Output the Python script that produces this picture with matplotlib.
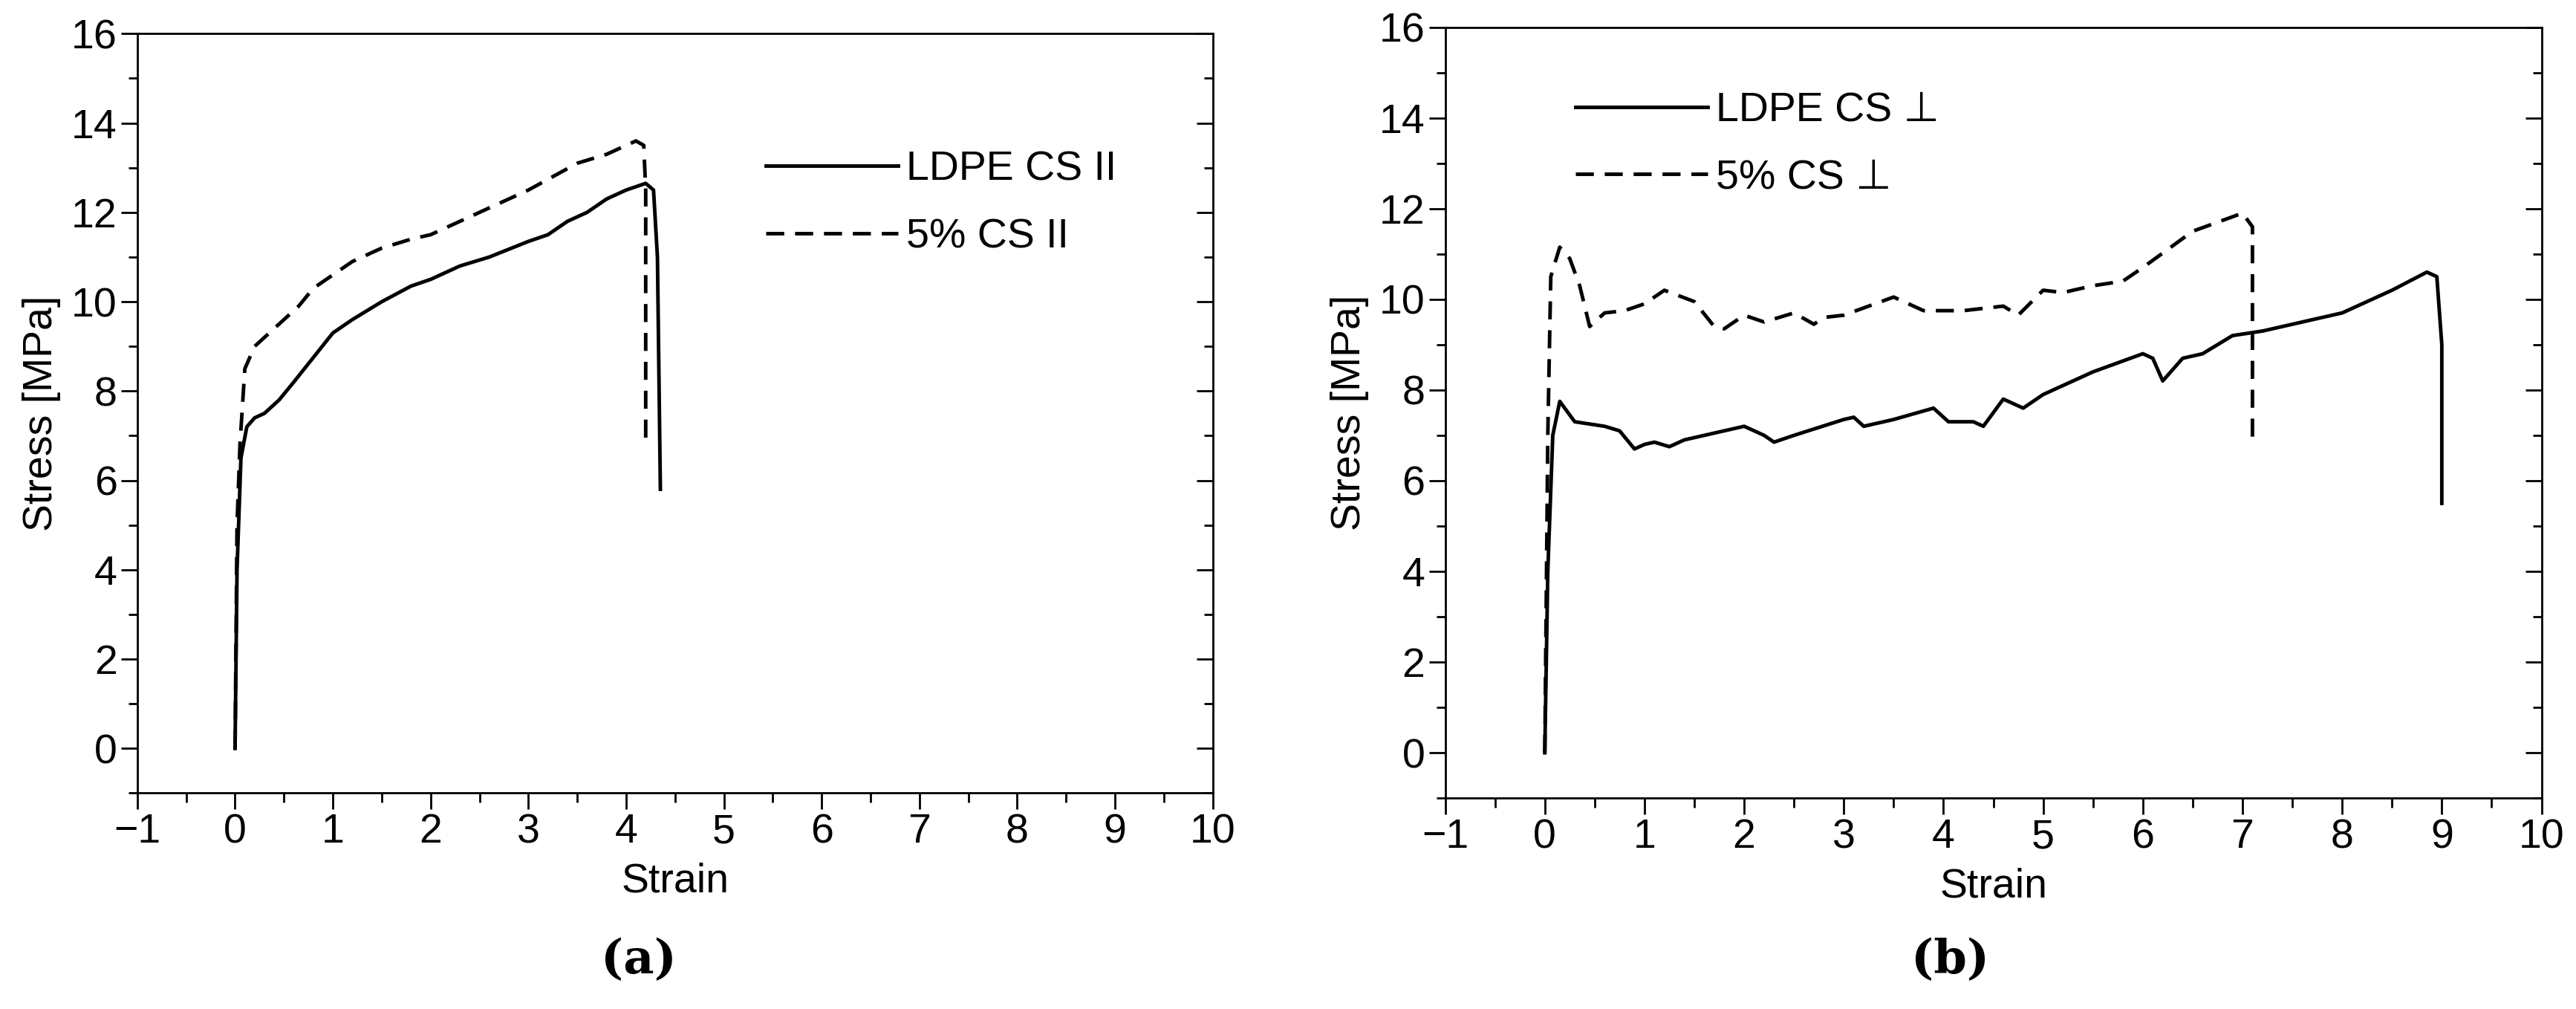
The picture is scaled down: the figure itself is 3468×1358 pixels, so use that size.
import matplotlib
matplotlib.use("Agg")
import matplotlib.pyplot as plt
from matplotlib.ticker import MultipleLocator

plt.rcParams["font.family"] = ["Liberation Sans", "DejaVu Sans"]

# (a) parallel direction
a_ldpe_x = [0, 0.02, 0.06, 0.12, 0.2, 0.3, 0.45, 0.6, 0.8, 1.0, 1.2, 1.5, 1.8, 2.0, 2.3, 2.6, 3.0, 3.2,
            3.4, 3.6, 3.8, 4.0, 4.2, 4.28, 4.32, 4.35]
a_ldpe_y = [0, 4, 6.5, 7.2, 7.4, 7.5, 7.8, 8.2, 8.75, 9.3, 9.6, 10.0, 10.35, 10.5, 10.8, 11.0, 11.35, 11.5,
            11.8, 12.0, 12.3, 12.5, 12.65, 12.5, 11.0, 5.8]
a_cs_x = [0, 0.02, 0.05, 0.1, 0.2, 0.35, 0.5, 0.65, 0.8, 1.0, 1.2, 1.5, 1.8, 2.0, 2.5, 3.0, 3.5, 3.8, 4.0,
          4.1, 4.18, 4.2, 4.2]
a_cs_y = [0, 5, 6.8, 8.5, 9.0, 9.3, 9.6, 9.9, 10.3, 10.6, 10.9, 11.2, 11.4, 11.5, 12.0, 12.5, 13.1, 13.3,
          13.5, 13.6, 13.5, 12.5, 6.8]

# (b) perpendicular direction
b_ldpe_x = [0, 0.03, 0.08, 0.15, 0.2, 0.3, 0.6, 0.75, 0.9, 1.0, 1.1, 1.25, 1.4, 2.0, 2.2, 2.3, 2.5, 3.0, 3.1,
            3.2, 3.5, 3.9, 4.05, 4.3, 4.4, 4.6, 4.7, 4.8, 5.0, 5.5, 6.0, 6.1, 6.2, 6.4, 6.6, 6.9, 7.2, 7.5,
            8.0, 8.5, 8.85, 8.95, 9.0, 9.0]
b_ldpe_y = [0, 4, 7, 7.75, 7.6, 7.3, 7.2, 7.1, 6.7, 6.8, 6.85, 6.75, 6.9, 7.2, 7.0, 6.85, 7.0, 7.35, 7.4,
            7.2, 7.35, 7.6, 7.3, 7.3, 7.2, 7.8, 7.7, 7.6, 7.9, 8.4, 8.8, 8.7, 8.2, 8.7, 8.8, 9.2, 9.3, 9.45,
            9.7, 10.2, 10.6, 10.5, 9.0, 5.5]
b_cs_x = [0, 0.03, 0.06, 0.15, 0.25, 0.35, 0.45, 0.6, 0.8, 1.0, 1.2, 1.5, 1.7, 1.8, 2.0, 2.2, 2.5, 2.7, 2.8,
          3.0, 3.5, 3.8, 4.2, 4.6, 4.75, 5.0, 5.2, 5.5, 5.8, 6.0, 6.5, 7.0, 7.1, 7.1]
b_cs_y = [0, 7, 10.5, 11.15, 10.9, 10.3, 9.4, 9.7, 9.75, 9.9, 10.2, 9.95, 9.4, 9.35, 9.65, 9.5, 9.7, 9.45, 9.6,
          9.65, 10.05, 9.75, 9.75, 9.85, 9.65, 10.2, 10.15, 10.3, 10.4, 10.7, 11.5, 11.9, 11.6, 6.8]

FS = 40

fig = plt.figure(figsize=(34.68, 13.58), dpi=100)
ax_a = fig.add_axes([0.0533, 0.214, 0.4175, 0.7526])
ax_b = fig.add_axes([0.561, 0.209, 0.4256, 0.764])


def style(ax):
    ax.set_xlim(-1, 10)
    ax.set_ylim(-1, 16)
    ax.xaxis.set_major_locator(MultipleLocator(1))
    ax.xaxis.set_minor_locator(MultipleLocator(0.5))
    ax.yaxis.set_major_locator(MultipleLocator(2))
    ax.yaxis.set_minor_locator(MultipleLocator(1))
    ax.tick_params(which="major", direction="out", length=16, width=2, labelsize=FS)
    ax.tick_params(which="minor", direction="out", length=9, width=2)
    for s in ax.spines.values():
        s.set_linewidth(2)
    sec = ax.secondary_yaxis("right")
    sec.yaxis.set_major_locator(MultipleLocator(2))
    sec.yaxis.set_minor_locator(MultipleLocator(1))
    sec.tick_params(which="major", direction="in", length=16, width=2, labelright=False)
    sec.tick_params(which="minor", direction="in", length=9, width=2)
    ax.set_xlabel("Strain", fontsize=FS, labelpad=10)
    ax.set_ylabel("Stress [MPa]", fontsize=FS, labelpad=10)


for ax in (ax_a, ax_b):
    style(ax)

ax_a.plot(a_ldpe_x, a_ldpe_y, "k-", lw=3.5, label="LDPE CS II")
ax_a.plot(a_cs_x, a_cs_y, "k--", lw=3.5, dashes=(5, 3), label="5% CS II")
ax_a.legend(loc="upper left", bbox_to_anchor=(0.55, 0.895), frameon=False, fontsize=FS,
            handlelength=3.2, handletextpad=0.2, labelspacing=0.7)

ax_b.plot(b_ldpe_x, b_ldpe_y, "k-", lw=3.5, label="LDPE CS ⊥")
ax_b.plot(b_cs_x, b_cs_y, "k--", lw=3.5, dashes=(5, 3), label="5% CS ⊥")
ax_b.legend(loc="upper left", bbox_to_anchor=(0.085, 0.965), frameon=False, fontsize=FS,
            handlelength=3.2, handletextpad=0.2, labelspacing=0.7)

fig.text(0.248, 0.035, "(a)", fontsize=46, family="DejaVu Serif", fontweight="bold", ha="center")
fig.text(0.757, 0.035, "(b)", fontsize=46, family="DejaVu Serif", fontweight="bold", ha="center")

plt.savefig("out.png", dpi=100)
